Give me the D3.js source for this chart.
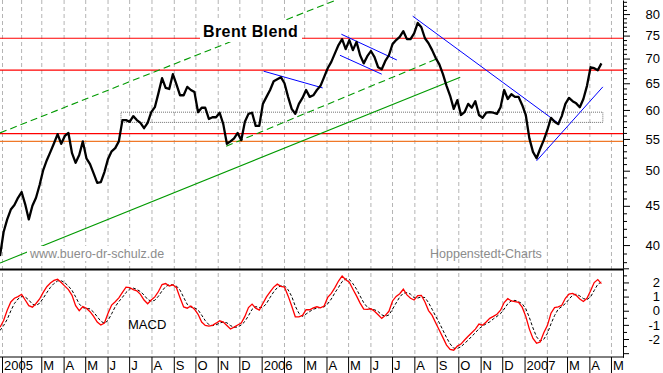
<!DOCTYPE html>
<html><head><meta charset="utf-8">
<script src="https://cdn.jsdelivr.net/npm/d3@7"></script>
<style>body{margin:0;background:#fff}svg{display:block;font-family:"Liberation Sans",Arial,sans-serif}</style>
</head><body><svg id="c" width="663" height="373"></svg>
<script>
// ---------- data ----------
const startDate = "2005-01-02";
const stepDays = 5;
const price = [38.7,41.6,43.2,44.5,45.1,46.1,46.9,45.2,43.2,45.0,46.1,47.9,50.1,51.6,52.9,54.3,55.8,54.2,55.5,56.0,
52.7,51.2,52.4,54.6,51.9,51.0,49.6,48.2,48.3,49.8,51.8,53.0,53.5,54.6,58.2,58.2,57.9,58.9,58.2,57.7,
56.8,57.7,59.6,60.5,63.1,66.0,64.1,63.9,66.8,64.8,62.7,62.7,64.3,63.7,63.3,59.6,60.4,60.4,58.4,58.7,
58.7,59.5,57.5,54.2,54.6,55.1,56.0,54.8,57.9,59.3,59.5,57.2,57.2,61.1,62.4,63.7,65.4,65.8,66.2,65.0,
62.4,60.2,59.3,61.1,62.2,63.7,62.4,62.7,63.7,64.5,66.2,68.0,69.3,71.1,72.9,74.2,72.0,74.0,71.8,73.6,
70.7,69.0,70.5,71.6,70.3,68.2,67.8,69.5,70.7,73.1,74.0,74.7,76.0,74.2,74.2,75.5,77.9,76.9,74.4,73.3,
71.8,70.1,68.8,66.8,64.5,62.6,60.2,61.8,59.1,59.6,61.1,60.4,61.6,59.1,58.6,59.5,59.6,59.5,59.3,60.5,
63.7,62.0,62.9,62.4,62.4,60.9,59.1,55.1,52.9,51.9,53.4,54.8,56.5,58.6,57.9,57.5,58.9,61.1,62.2,61.6,
61.2,60.5,62.0,64.5,68.2,68.0,67.6,69.0];
const macd = [-1.17,-0.69,0.04,0.62,0.88,1.00,1.16,0.76,0.36,0.25,0.51,0.83,1.30,1.70,1.96,2.14,2.22,1.99,1.74,1.49,
1.09,0.36,0.00,0.29,0.18,-0.07,-0.40,-0.80,-1.01,-0.87,-0.18,0.40,0.64,0.91,1.30,1.67,1.64,1.49,1.41,1.16,
0.76,0.49,0.76,0.98,1.36,1.85,1.92,1.75,1.83,1.63,0.91,0.27,0.18,0.33,0.11,-0.25,-0.80,-1.04,-1.09,-1.03,
-0.88,-0.71,-0.80,-1.05,-1.29,-1.16,-1.01,-0.87,-0.40,0.22,0.47,0.18,0.04,0.51,0.98,1.34,1.67,1.88,1.72,1.67,
1.05,0.33,-0.43,-0.43,-0.33,0.07,0.07,0.20,0.28,0.20,0.33,0.94,1.23,1.63,2.10,2.46,2.19,2.01,1.52,1.05,
0.54,0.11,0.10,0.14,-0.04,-0.29,-0.54,-0.33,-0.04,0.69,1.01,1.20,1.52,1.12,0.88,0.76,1.07,1.09,0.62,0.01,
-0.33,-0.87,-1.38,-1.90,-2.43,-2.73,-2.79,-2.50,-2.36,-2.07,-1.81,-1.56,-1.30,-0.94,-1.02,-0.80,-0.54,-0.40,-0.25,0.04,
0.58,0.85,0.69,0.64,0.59,0.25,-0.40,-1.30,-1.96,-2.30,-2.21,-1.56,-1.05,-0.18,0.22,0.28,0.38,0.88,1.18,1.23,
1.09,0.83,0.65,0.88,1.41,1.99,2.20,1.92];
const signal = [-1.40,-1.05,-0.61,-0.01,0.51,0.83,1.01,0.97,0.76,0.46,0.37,0.53,0.88,1.28,1.65,1.93,2.11,2.12,1.98,1.74,
1.44,0.98,0.48,0.22,0.16,0.13,-0.10,-0.42,-0.74,-0.89,-0.69,-0.22,0.29,0.65,0.95,1.29,1.54,1.60,1.51,1.35,
1.11,0.80,0.67,0.74,1.03,1.40,1.71,1.84,1.83,1.74,1.46,0.94,0.45,0.26,0.21,0.06,-0.31,-0.70,-0.98,-1.05,
-1.00,-0.87,-0.80,-0.85,-1.05,-1.17,-1.15,-1.01,-0.76,-0.35,0.10,0.29,0.23,0.24,0.51,0.94,1.33,1.63,1.76,1.76,
1.48,1.02,0.32,-0.18,-0.40,-0.23,-0.06,0.11,0.18,0.23,0.27,0.49,0.83,1.27,1.65,2.06,2.25,2.22,1.91,1.53,
1.04,0.57,0.25,0.12,0.07,-0.06,-0.29,-0.39,-0.30,0.11,0.55,0.97,1.24,1.28,1.17,0.92,0.90,0.97,0.93,0.57,
0.10,-0.40,-0.86,-1.38,-1.90,-2.35,-2.65,-2.67,-2.55,-2.31,-2.08,-1.81,-1.56,-1.27,-1.09,-0.92,-0.79,-0.58,-0.40,-0.20,
0.12,0.49,0.71,0.73,0.64,0.49,0.15,-0.48,-1.22,-1.85,-2.16,-2.02,-1.61,-0.93,-0.34,0.11,0.29,0.51,0.81,1.10,
1.17,1.05,0.86,0.79,0.98,1.43,1.87,2.04];
const priceTicks = [40,45,50,55,60,65,70,75,80];
const macdTicks = [-2,-1,0,1,2];
const monthLetters = ["J","F","M","A","M","J","J","A","S","O","N","D"];
const redLevels = [74.4, 67.6, 55.9];
const orangeLevel = 54.6;
const boxRange = {from:"2005-06-19", to:"2007-04-19", lo:57.8, hi:59.6};
const greenSolid = [[["2005-01-02",37.9],["2006-10-03",66.2]]];
const greenDashed = [[["2005-01-02",56.0],["2006-04-13",83.4]],[["2005-11-12",53.8],["2006-08-31",69.9]]];
const blueLines = [
  [["2006-01-03",67.4],["2006-03-26",64.1]],
  [["2006-04-21",75.3],["2006-07-07",69.7]],
  [["2006-04-19",70.7],["2006-06-16",66.8]],
  [["2006-07-29",79.5],["2007-02-18",57.5]],
  [["2007-01-17",51.5],["2007-04-19",64.3]]
];

// ---------- scales ----------
const parse = d3.timeParse("%Y-%m-%d");
const FONT = '"Liberation Sans",Arial,sans-serif';
const W = 623;
const x = d3.scaleTime().domain([new Date(2005,0,2), new Date(2007,4,17)]).range([0, W]);
const yP = d3.scaleLog().domain([37.34, 83.45]).range([268, 0]);
const yM = d3.scaleLinear().domain([-3.3, 3.0]).range([357.4, 268.3]);
const start = parse(startDate);
const dates = price.map((_, i) => d3.timeDay.offset(start, stepDays * i));

const svg = d3.select("#c");
const defs = svg.append("defs");
defs.append("clipPath").attr("id","cp").append("rect").attr("x",0).attr("y",0).attr("width",W).attr("height",268);
defs.append("clipPath").attr("id","cm").append("rect").attr("x",0).attr("y",270).attr("width",W).attr("height",87);

// month gridlines
const months = d3.timeMonth.range(new Date(2005,0,1), new Date(2007,4,17));
const mx = m => Math.max(x(m), 2.5);
svg.append("g").selectAll("line").data(months).join("line")
  .attr("x1", mx).attr("x2", mx).attr("y1", 0).attr("y2", 357)
  .attr("stroke", "#b4b4b4").attr("stroke-width", 1).attr("stroke-dasharray", "4,3");

const gP = svg.append("g").attr("clip-path","url(#cp)");
const seg = s => ({x1: x(parse(s[0][0])), y1: yP(s[0][1]), x2: x(parse(s[1][0])), y2: yP(s[1][1])});

// gray box
gP.append("rect")
  .attr("x", x(parse(boxRange.from))).attr("y", yP(boxRange.hi))
  .attr("width", x(parse(boxRange.to)) - x(parse(boxRange.from)))
  .attr("height", yP(boxRange.lo) - yP(boxRange.hi))
  .attr("fill","none").attr("stroke","#707070").attr("stroke-width",1).attr("stroke-dasharray","1,1");

// horizontal levels
gP.selectAll(".red").data(redLevels).join("line").attr("class","red")
  .attr("x1",0).attr("x2",W).attr("y1",d=>yP(d)).attr("y2",d=>yP(d))
  .attr("stroke","#ff0000").attr("stroke-width",1.2);
gP.append("line").attr("x1",0).attr("x2",W).attr("y1",yP(orangeLevel)).attr("y2",yP(orangeLevel))
  .attr("stroke","#f07828").attr("stroke-width",1.2);

// green trend lines
gP.selectAll(".gs").data(greenSolid.map(seg)).join("line").attr("class","gs")
  .attr("x1",d=>d.x1).attr("y1",d=>d.y1).attr("x2",d=>d.x2).attr("y2",d=>d.y2)
  .attr("stroke","#009a00").attr("stroke-width",1.1);
gP.selectAll(".gd").data(greenDashed.map(seg)).join("line").attr("class","gd")
  .attr("x1",d=>d.x1).attr("y1",d=>d.y1).attr("x2",d=>d.x2).attr("y2",d=>d.y2)
  .attr("stroke","#009a00").attr("stroke-width",1.1).attr("stroke-dasharray","7,4");
// blue lines
gP.selectAll(".bl").data(blueLines.map(seg)).join("line").attr("class","bl")
  .attr("x1",d=>d.x1).attr("y1",d=>d.y1).attr("x2",d=>d.x2).attr("y2",d=>d.y2)
  .attr("stroke","#0000ff").attr("stroke-width",1);

// title with opaque background
svg.append("rect").attr("x",200).attr("y",20).attr("width",102).attr("height",22).attr("fill","#fff");
svg.append("text").attr("x",203).attr("y",37).text("Brent Blend")
  .attr("font-family",FONT).attr("font-weight","bold").attr("font-size",16).attr("letter-spacing",0.4).attr("fill","#000");

// watermarks
svg.append("rect").attr("x",27).attr("y",246).attr("width",140).attr("height",15).attr("fill","#fff");
svg.append("text").attr("x",30).attr("y",258).text("www.buero-dr-schulz.de")
  .attr("font-family",FONT).attr("font-size",12.5).attr("fill","#8c8c8c");
svg.append("text").attr("x",430).attr("y",257.5).text("Hoppenstedt-Charts")
  .attr("font-family",FONT).attr("font-size",12.5).attr("fill","#8c8c8c");

// price line
const lineP = d3.line().x((d,i)=>x(dates[i])).y(d=>yP(d));
gP.append("path").datum(price).attr("d",lineP).attr("fill","none")
  .attr("stroke","#000").attr("stroke-width",2.3).attr("stroke-linejoin","round");

// MACD panel
const gM = svg.append("g").attr("clip-path","url(#cm)");
const lineM = d3.line().x((d,i)=>x(dates[i])).y(d=>yM(d));
gM.append("path").datum(signal).attr("d",lineM).attr("fill","none")
  .attr("stroke","#000").attr("stroke-width",1).attr("stroke-dasharray","3,2");
gM.append("path").datum(macd).attr("d",lineM).attr("fill","none")
  .attr("stroke","#ff0000").attr("stroke-width",1.3);
svg.append("text").attr("x",128).attr("y",329).text("MACD")
  .attr("font-family",FONT).attr("font-size",13).attr("fill","#000");

// separator
svg.append("line").attr("x1",0).attr("x2",W).attr("y1",269.5).attr("y2",269.5)
  .attr("stroke","#000").attr("stroke-width",2.2);

// right price axis
const axP = d3.axisRight(yP).tickValues(d3.range(38,84)).tickSize(4).tickSizeOuter(0)
  .tickFormat(d => priceTicks.includes(d) ? String(d) : "");
const gAP = svg.append("g").attr("transform",`translate(${W},0)`).call(axP)
  .attr("font-size",13).attr("font-family",FONT);
gAP.selectAll(".tick line").attr("x2", d => priceTicks.includes(d) ? 7 : 4).attr("stroke","#000");
gAP.selectAll(".tick text").attr("x",37).attr("text-anchor","end").attr("fill","#000");
gAP.select(".domain").attr("stroke","#000");

// right MACD axis
const axM = d3.axisRight(yM).tickValues(d3.range(-6,7).map(v=>v/2)).tickSize(4).tickSizeOuter(0)
  .tickFormat(d => macdTicks.includes(d) ? String(d) : "");
const gAM = svg.append("g").attr("transform",`translate(${W},0)`).call(axM)
  .attr("font-size",13).attr("font-family",FONT);
gAM.selectAll(".tick line").attr("x2", d => Number.isInteger(d) ? 6 : 4).attr("stroke","#000");
gAM.selectAll(".tick text").attr("x",37).attr("text-anchor","end").attr("fill","#000");
gAM.select(".domain").attr("stroke","#000");

// bottom time axis
svg.append("line").attr("x1",0).attr("x2",W).attr("y1",357).attr("y2",357).attr("stroke","#000");
const gX = svg.append("g");
gX.selectAll("line").data(months).join("line")
  .attr("x1",mx).attr("x2",mx).attr("y1",357).attr("y2",373).attr("stroke","#000");
gX.selectAll("text").data(months).join("text")
  .attr("x", d => mx(d) + 1.5).attr("y", 369.5)
  .attr("font-family",FONT).attr("font-size",13).attr("fill","#000")
  .text(d => d.getMonth()===0 ? String(d.getFullYear()) : (d.getMonth()===1 ? "" : monthLetters[d.getMonth()]));
</script></body></html>
